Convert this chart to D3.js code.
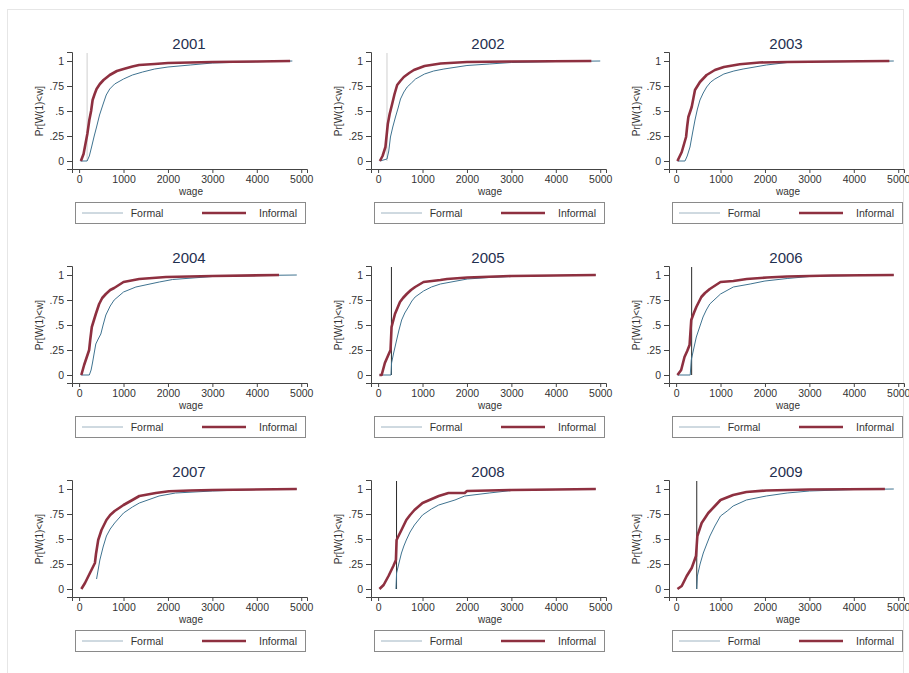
<!DOCTYPE html>
<html>
<head>
<meta charset="utf-8">
<script src="https://cdn.jsdelivr.net/npm/d3@7"></script>
<style>
  html, body { margin: 0; padding: 0; background: #fff; }
  svg { display: block; }
  text { font-family: "Liberation Sans", Arial, sans-serif; }
</style>
</head>
<body>
<svg id="chart" width="909" height="673"></svg>
<script>
// Cumulative wage distributions, formal vs informal workers, 2001-2009.
const years = [2001, 2002, 2003, 2004, 2005, 2006, 2007, 2008, 2009];

// Minimum-wage reference line per year (null: no line drawn) and its shade.
const minWage = [180, 200, null, null, 300, 350, null, 415, 465];
const minWageShade = ["light", "light", null, null, "dark", "dark", null, "dark", "dark"];

const xTicks = [0, 1000, 2000, 3000, 4000, 5000];
const yTicks = [0, 0.25, 0.5, 0.75, 1];
const yTickLabels = ["0", ".25", ".5", ".75", "1"];
const seriesNames = ["Formal", "Informal"];

// [wage, Pr(W <= wage)] pairs
const formal2001 = [[30,0],[180,0],[230,0.05],[281,0.14],[340,0.25],[393,0.34],[460,0.46],[541,0.57],[610,0.66],[689,0.72],[800,0.77],[1000,0.82],[1200,0.86],[1430,0.89],[1700,0.92],[2000,0.94],[2500,0.96],[3000,0.98],[4000,0.993],[4800,1]];
const informal2001 = [[40,0],[100,0.07],[185,0.27],[230,0.41],[270,0.5],[304,0.61],[350,0.67],[393,0.72],[467,0.77],[550,0.81],[690,0.86],[850,0.9],[1000,0.92],[1200,0.945],[1350,0.96],[1700,0.97],[2000,0.98],[2500,0.985],[3000,0.99],[4000,0.995],[4750,1]];

const formal2002 = [[40,0],[200,0.02],[240,0.1],[278,0.24],[330,0.34],[391,0.44],[450,0.53],[504,0.62],[580,0.69],[654,0.74],[750,0.78],[842,0.82],[1045,0.87],[1250,0.9],[1481,0.92],[2000,0.955],[2500,0.97],[3000,0.985],[4000,0.995],[5000,1]];
const informal2002 = [[40,0],[100,0.05],[165,0.14],[218,0.37],[260,0.47],[316,0.57],[370,0.67],[429,0.76],[500,0.8],[579,0.84],[700,0.88],[805,0.91],[1045,0.95],[1406,0.975],[2000,0.99],[3000,0.995],[4800,1]];

const formal2003 = [[30,0],[200,0],[250,0.05],[313,0.14],[370,0.28],[425,0.41],[480,0.52],[537,0.61],[610,0.68],[687,0.74],[780,0.79],[873,0.82],[1075,0.87],[1300,0.9],[1508,0.92],[2030,0.96],[2500,0.985],[3000,0.99],[4000,0.995],[4900,1]];
const informal2003 = [[30,0],[127,0.09],[224,0.24],[250,0.35],[276,0.44],[351,0.54],[390,0.63],[425,0.71],[537,0.79],[687,0.86],[873,0.91],[1075,0.94],[1433,0.967],[1880,0.985],[2500,0.99],[3500,0.995],[4800,1]];

const formal2004 = [[40,0],[230,0],[270,0.05],[301,0.12],[340,0.22],[376,0.31],[430,0.36],[489,0.41],[540,0.5],[602,0.6],[700,0.69],[789,0.75],[1000,0.83],[1278,0.88],[1805,0.93],[2105,0.955],[3000,0.985],[4000,0.995],[4900,1]];
const informal2004 = [[50,0],[113,0.1],[226,0.25],[250,0.35],[286,0.48],[376,0.61],[451,0.71],[520,0.77],[602,0.81],[700,0.85],[789,0.87],[1000,0.93],[1353,0.96],[1955,0.98],[3000,0.99],[4500,1]];

const formal2005 = [[30,0],[290,0],[303,0.12],[350,0.22],[417,0.35],[470,0.45],[530,0.55],[600,0.62],[682,0.68],[760,0.74],[833,0.78],[1023,0.84],[1200,0.88],[1402,0.91],[2008,0.96],[2500,0.975],[3000,0.985],[4000,0.995],[4900,1]];
const informal2005 = [[30,0],[80,0],[152,0.12],[230,0.2],[280,0.25],[303,0.48],[379,0.61],[492,0.73],[560,0.77],[644,0.81],[740,0.85],[833,0.88],[1023,0.93],[1402,0.95],[1553,0.96],[2008,0.975],[3000,0.99],[4900,1]];

const formal2006 = [[30,0],[318,0],[341,0.15],[400,0.27],[455,0.38],[530,0.48],[606,0.58],[680,0.65],[758,0.71],[1000,0.81],[1288,0.88],[1667,0.91],[2000,0.94],[2500,0.965],[3000,0.985],[4000,0.995],[4900,1]];
const informal2006 = [[30,0],[114,0.05],[189,0.18],[250,0.24],[303,0.3],[341,0.55],[400,0.62],[455,0.68],[568,0.78],[650,0.82],[758,0.86],[1000,0.93],[1288,0.94],[1591,0.96],[2045,0.975],[2500,0.985],[3500,0.995],[4900,1]];

const formal2007 = [[393,0.1],[467,0.29],[540,0.42],[615,0.53],[700,0.6],[800,0.66],[900,0.71],[1000,0.76],[1200,0.82],[1356,0.86],[1800,0.93],[2170,0.96],[3000,0.98],[4000,0.995],[4900,1]];
const informal2007 = [[50,0],[133,0.06],[244,0.16],[300,0.21],[356,0.26],[380,0.35],[430,0.49],[504,0.59],[615,0.69],[700,0.74],[800,0.78],[1000,0.84],[1200,0.89],[1356,0.93],[1726,0.96],[2022,0.977],[2500,0.985],[3000,0.99],[4900,1]];

const formal2008 = [[401,0],[416,0.16],[470,0.26],[526,0.36],[580,0.43],[635,0.49],[720,0.57],[818,0.64],[1000,0.74],[1200,0.8],[1365,0.84],[1730,0.89],[1949,0.93],[2500,0.96],[3000,0.985],[4000,0.995],[4900,1]];
const informal2008 = [[30,0],[124,0.04],[234,0.13],[343,0.23],[401,0.29],[416,0.49],[470,0.54],[526,0.59],[635,0.69],[720,0.74],[818,0.79],[1000,0.86],[1365,0.93],[1584,0.96],[1949,0.96],[2000,0.98],[3000,0.99],[4000,0.995],[4900,1]];

const formal2009 = [[463,0],[478,0.13],[540,0.25],[612,0.36],[690,0.45],[761,0.53],[873,0.63],[1000,0.73],[1150,0.78],[1284,0.83],[1582,0.89],[2030,0.93],[2500,0.96],[3000,0.98],[4000,0.995],[4900,1]];
const informal2009 = [[30,0],[127,0.03],[239,0.13],[351,0.21],[448,0.33],[478,0.53],[575,0.66],[650,0.71],[724,0.76],[873,0.83],[1000,0.89],[1284,0.94],[1582,0.97],[2030,0.985],[3000,0.995],[4700,1]];

const formalSeries = [formal2001, formal2002, formal2003, formal2004, formal2005, formal2006, formal2007, formal2008, formal2009];
const informalSeries = [informal2001, informal2002, informal2003, informal2004, informal2005, informal2006, informal2007, informal2008, informal2009];

const colFormal = "#3f7390";
const colInformal = "#8e3040";
const axisCol = "#444";
const textCol = "#333";

const svg = d3.select("#chart");

// outer frame
svg.append("rect")
  .attr("x", 7.5).attr("y", 9.5).attr("width", 896).attr("height", 680)
  .attr("fill", "none").attr("stroke", "#e6e6e6");

const colOffsets = [0, 299, 597];
const rowOffsets = [0, 214, 428];

years.forEach((yr, i) => {
  const g = svg.append("g")
    .attr("transform", `translate(${colOffsets[i % 3]},${rowOffsets[Math.floor(i / 3)]})`);

  const x = d3.scaleLinear().domain([-160, 5130]).range([72, 307]);
  const y = d3.scaleLinear().domain([-0.08, 1.09]).range([169, 52]);

  // title
  g.append("text")
    .attr("x", 189).attr("y", 49)
    .attr("text-anchor", "middle")
    .attr("font-size", 15)
    .attr("fill", "#1f2f4f")
    .text(yr);

  // minimum-wage reference line
  if (minWage[i] !== null) {
    g.append("line")
      .attr("x1", x(minWage[i])).attr("x2", x(minWage[i]))
      .attr("y1", y(0)).attr("y2", y(1.08))
      .attr("stroke", minWageShade[i] === "dark" ? "#2a2a2a" : "#cfcfcf")
      .attr("stroke-width", 1);
  }

  const line = d3.line()
    .x(d => x(d[0]))
    .y(d => y(d[1]))
    .curve(d3.curveLinear);

  g.append("path")
    .datum(formalSeries[i])
    .attr("d", line)
    .attr("fill", "none")
    .attr("stroke", colFormal)
    .attr("stroke-width", 1);

  g.append("path")
    .datum(informalSeries[i])
    .attr("d", line)
    .attr("fill", "none")
    .attr("stroke", colInformal)
    .attr("stroke-width", 2.6)
    .attr("stroke-linejoin", "round");

  // x axis
  const xAxis = g.append("g")
    .attr("transform", "translate(0,169)")
    .call(d3.axisBottom(x).tickValues(xTicks).tickSize(4).tickPadding(3).tickFormat(d3.format("d")));
  xAxis.select(".domain").attr("stroke", axisCol);
  xAxis.selectAll(".tick line").attr("stroke", axisCol);
  xAxis.selectAll("text").attr("font-size", 10.5).attr("fill", textCol)
    .attr("font-family", "'Liberation Sans', Arial, sans-serif");

  // y axis
  const yAxis = g.append("g")
    .attr("transform", "translate(72,0)")
    .call(d3.axisLeft(y).tickValues(yTicks).tickSize(5).tickPadding(3)
      .tickFormat((d, k) => yTickLabels[k]));
  yAxis.select(".domain").attr("stroke", axisCol);
  yAxis.selectAll(".tick line").attr("stroke", axisCol);
  yAxis.selectAll("text").attr("font-size", 10.5).attr("fill", textCol)
    .attr("font-family", "'Liberation Sans', Arial, sans-serif");

  // axis titles
  g.append("text")
    .attr("x", 191).attr("y", 195)
    .attr("text-anchor", "middle")
    .attr("font-size", 10).attr("fill", textCol)
    .text("wage");

  g.append("text")
    .attr("transform", "translate(43,111) rotate(-90)")
    .attr("text-anchor", "middle")
    .attr("font-size", 10).attr("fill", textCol)
    .text("Pr[W(1)<w]");

  // legend
  const lg = g.append("g").attr("transform", "translate(75,202)");
  lg.append("rect")
    .attr("x", 0.5).attr("y", 0.5).attr("width", 230).attr("height", 21)
    .attr("fill", "#fff").attr("stroke", "#8a8a8a");
  lg.append("line")
    .attr("x1", 7).attr("x2", 48).attr("y1", 11).attr("y2", 11)
    .attr("stroke", "#9fb4c2").attr("stroke-width", 1);
  lg.append("text")
    .attr("x", 72).attr("y", 14.5)
    .attr("text-anchor", "middle")
    .attr("font-size", 10.5).attr("fill", textCol)
    .text(seriesNames[0]);
  lg.append("line")
    .attr("x1", 127).attr("x2", 171).attr("y1", 11).attr("y2", 11)
    .attr("stroke", colInformal).attr("stroke-width", 2.6);
  lg.append("text")
    .attr("x", 203).attr("y", 14.5)
    .attr("text-anchor", "middle")
    .attr("font-size", 10.5).attr("fill", textCol)
    .text(seriesNames[1]);
});
</script>
</body>
</html>
